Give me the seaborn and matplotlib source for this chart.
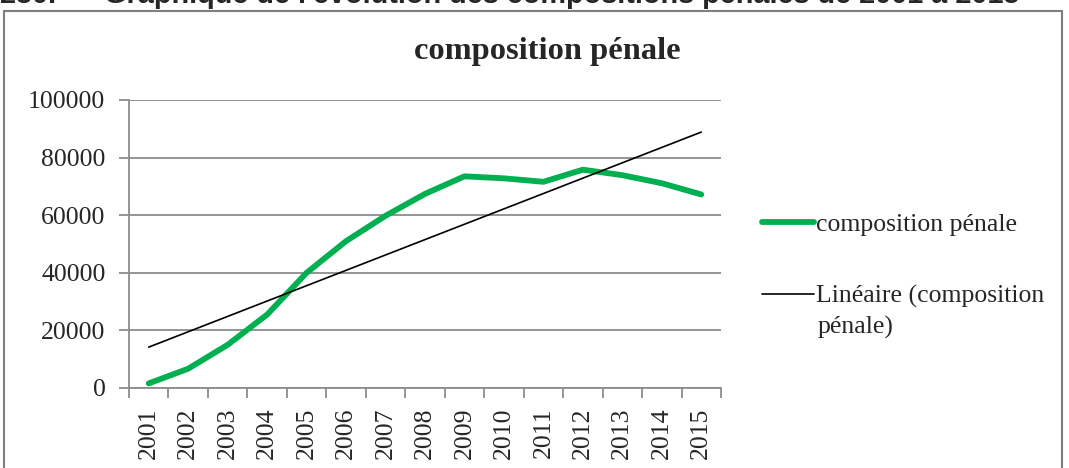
import numpy as np
import pandas as pd
import seaborn as sns
import matplotlib.pyplot as plt
from matplotlib.patches import Rectangle

# --- DATA ---
years = ["2001", "2002", "2003", "2004", "2005", "2006", "2007", "2008",
         "2009", "2010", "2011", "2012", "2013", "2014", "2015"]
compositions = [1600, 6700, 15000, 25500, 40000, 51000, 59800, 67400,
                73500, 72800, 71600, 75800, 73900, 71100, 67200]
series_name = "composition pénale"
trend_name = ["Linéaire (composition", "pénale)"]
y_ticks = [0, 20000, 40000, 60000, 80000, 100000]

GREEN = "#00B050"
GRID = "#8c8c8c"
SERIF = "Liberation Serif"

sns.set_theme(style="white")
plt.rcParams['font.family'] = [SERIF, 'DejaVu Serif']

df = pd.DataFrame({"pos": np.arange(len(years)), "value": compositions})
# linear trend line, like the spreadsheet "Linéaire" trendline
slope, intercept = np.polyfit(df["pos"], df["value"], 1)
df["trend"] = slope * df["pos"] + intercept

fig = plt.figure(figsize=(10.69, 4.68), dpi=100)
ax = fig.add_axes([129 / 1069, 1 - 388 / 468, 592 / 1069, 288 / 468])

sns.lineplot(data=df, x="pos", y="value", ax=ax, color=GREEN, linewidth=4.2,
             solid_capstyle="round", label=series_name, legend=False)
sns.lineplot(data=df, x="pos", y="trend", ax=ax, color="black", linewidth=1.2,
             label=trend_name[0], legend=False)

ax.set_xlim(-0.5, len(years) - 0.5)
ax.set_ylim(0, 100000)
ax.set_yticks(y_ticks)
ax.set_yticklabels([str(v) for v in y_ticks], fontsize=18.5)
ax.set_xticks(np.arange(len(years)))
ax.set_xticklabels(years, rotation=90, fontsize=18.5)
ax.set_xticks(np.arange(-0.5, len(years)), minor=True)
ax.tick_params(axis="x", which="major", length=0, pad=14)
ax.tick_params(axis="x", which="minor", length=7, width=1.3, color=GRID,
               direction="out", bottom=True)
ax.tick_params(axis="y", length=7, width=1.3, color=GRID, direction="out",
               left=True, pad=10)
ax.set_xlabel("")
ax.set_ylabel("")

ax.yaxis.grid(True, color=GRID, linewidth=1.3)
ax.set_axisbelow(True)
for side in ["top", "right"]:
    ax.spines[side].set_visible(False)
for side in ["left", "bottom"]:
    ax.spines[side].set_color(GRID)
    ax.spines[side].set_linewidth(1.3)

# chart title
fig.text(547 / 1069, 1 - 52 / 468, "composition pénale", ha="center",
         va="center", fontsize=23.4, fontweight="bold", family=SERIF)

# legend on the right; the wrapped second line of the trend label sits below
handles, labels = ax.get_legend_handles_labels()
fig.legend(handles, labels, loc="upper left",
           bbox_to_anchor=(752 / 1069, 1 - 203 / 468), frameon=False,
           fontsize=18.5, handlelength=2.0, handletextpad=0.1,
           labelspacing=1.9, borderaxespad=0)
fig.text(818 / 1069, 1 - 334 / 468, trend_name[1], ha="left", va="baseline",
         fontsize=18.5, family=SERIF)

# chart frame and the clipped caption above it
fig.add_artist(Rectangle((4 / 1069, -0.05), 1058 / 1069, 1.05 - 11 / 468,
                         transform=fig.transFigure, fill=False,
                         edgecolor="#7f7f7f", linewidth=1.5))
fig.text(0.0, 1 - 3 / 468,
         "230.      Graphique de l'évolution des compositions pénales de 2001 à 2015",
         ha="left", va="baseline", fontsize=20.8, fontweight="bold",
         family="Liberation Sans")

fig.savefig("out.png", dpi=100)
